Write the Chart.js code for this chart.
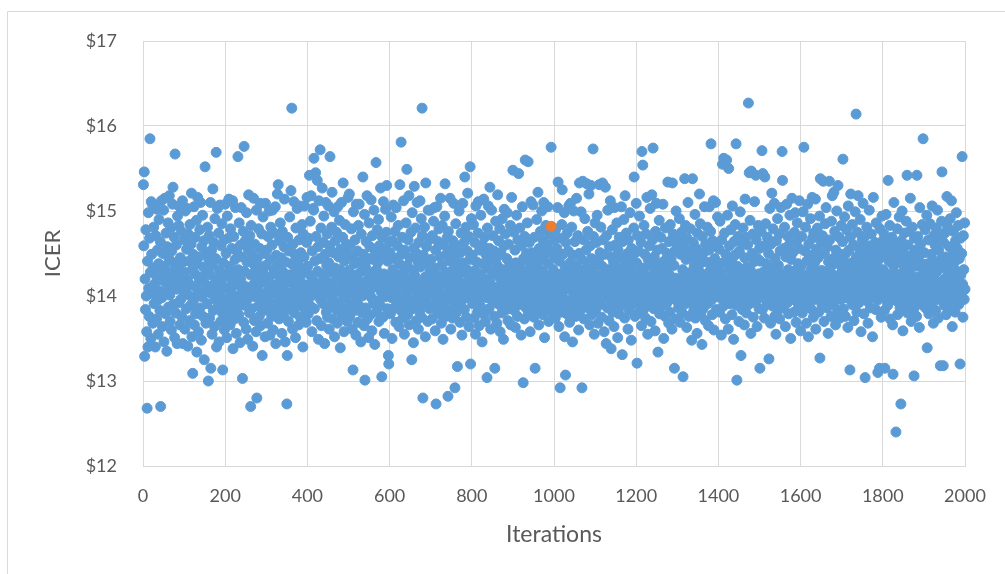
<!DOCTYPE html>
<html>
<head>
<meta charset="utf-8">
<script src="https://cdn.jsdelivr.net/npm/chart.js@4"></script>
<style>
  html, body { margin: 0; padding: 0; background: #fff; }
  #wrap { width: 1005px; height: 574px; }
</style>
</head>
<body>
<div id="wrap"><canvas id="chart" width="1005" height="574"></canvas></div>
<script>
// ICER per iteration in blocks of 100 iterations
const block00 = [15.31,14.59,15.46,13.29,14.20,13.84,14.78,14.00,13.58,12.68, 14.41,13.40,14.98,14.09,13.76,14.68,15.85,14.28,13.50,15.11, 14.49,14.03,15.08,13.68,14.33,14.81,13.91,14.14,15.04,13.40, 14.71,14.24,13.73,15.02,14.54,13.95,13.55,14.38,14.90,14.06, 13.83,14.64,12.70,14.30,15.12,13.98,13.64,14.50,14.18,15.01, 13.46,14.35,15.15,14.04,13.79,14.74,14.21,13.35,14.58,14.11, 14.86,13.87,14.44,15.18,14.01,13.70,14.28,14.80,13.60,14.53, 14.16,15.08,15.28,13.90,14.39,14.69,13.51,15.67,14.25,13.80, 14.60,14.08,13.44,14.94,14.34,13.92,14.83,14.13,15.05,13.66, 14.45,13.96,14.76,13.76,14.22,15.12,13.44,14.40,14.05,14.66];
const block01 = [14.28,13.61,15.00,14.09,13.85,14.55,15.03,14.19,13.41,14.73, 14.01,14.41,13.71,14.84,14.13,13.89,14.61,15.21,13.52,14.31, 13.09,14.49,13.95,15.05,13.66,14.26,14.69,13.79,14.10,14.89, 13.34,14.38,15.16,14.04,13.58,14.46,14.18,14.78,13.86,15.10, 14.22,13.48,14.58,13.99,14.95,13.76,14.34,14.65,13.25,14.15, 15.52,14.06,13.68,14.51,14.29,13.91,14.81,14.11,13.00,14.43, 14.71,13.74,14.25,15.10,13.15,14.03,14.54,13.55,14.36,15.26, 13.83,14.63,14.14,13.64,14.91,13.96,14.44,15.69,13.40,14.20, 15.03,14.08,13.88,14.74,13.46,14.30,15.07,14.00,13.70,14.59, 14.18,14.85,13.80,13.13,14.39,13.94,14.66,13.60,14.26,15.08];
const block02 = [13.90,14.50,14.09,13.51,14.94,14.24,13.75,14.68,15.14,13.98, 14.35,13.66,14.79,14.05,13.84,14.56,14.16,15.12,13.38,14.28, 14.70,13.95,13.73,14.43,15.04,14.13,13.56,14.53,14.21,13.86, 15.64,14.31,13.78,14.86,14.01,13.45,14.60,14.19,15.04,13.92, 14.46,13.03,14.08,14.76,13.69,15.76,14.29,13.89,14.65,14.11, 13.61,14.98,14.40,13.96,13.49,14.55,15.19,14.06,13.80,14.71, 14.25,12.70,14.83,13.85,14.49,14.04,13.41,14.38,15.15,14.14, 13.71,14.61,13.99,14.30,13.58,15.01,12.80,14.44,14.10,13.88, 14.79,14.20,13.76,14.56,15.09,13.65,14.34,13.94,14.73,13.30, 14.28,14.93,14.03,13.83,14.50,14.16,13.52,15.09,14.36,14.00];
const block03 = [14.54,13.96,13.68,14.70,14.22,13.86,15.00,14.08,13.54,14.43, 14.81,14.14,13.76,14.60,15.01,14.03,13.60,14.31,14.74,13.91, 14.26,15.05,13.44,14.48,14.09,13.81,15.20,14.36,15.31,14.01, 13.73,14.65,14.18,14.86,13.89,14.45,13.98,13.56,14.76,14.29, 14.11,13.78,14.58,15.14,14.05,13.46,14.40,14.21,13.85,12.73, 13.30,14.69,14.16,13.70,14.53,13.95,14.93,14.25,13.90,15.24, 14.38,16.21,14.04,13.61,14.61,14.19,15.11,13.80,14.49,14.10, 13.51,14.80,14.30,13.99,15.03,13.88,14.41,14.14,13.66,14.66, 15.06,14.20,13.75,14.51,14.06,13.92,14.84,14.33,13.40,14.73, 13.94,14.46,15.06,13.84,14.28,14.13,13.69,14.63,15.16,14.01];
const block04 = [14.35,13.79,14.68,14.09,15.42,13.89,14.88,14.24,15.18,14.00, 13.58,14.53,14.19,15.03,15.01,15.62,13.85,14.41,14.05,15.45, 14.70,14.15,13.71,15.36,14.29,14.58,13.49,15.12,14.11,14.44, 15.72,13.96,14.80,13.65,14.26,15.27,14.08,13.91,14.63,14.94, 14.21,13.44,14.49,14.03,15.10,13.81,14.36,14.73,13.75,14.16, 15.06,14.39,13.61,14.59,15.64,13.99,14.28,13.88,14.81,15.22, 14.10,13.73,14.51,13.95,14.99,13.52,14.33,14.65,14.18,13.84, 14.75,14.24,13.68,15.05,14.06,14.46,13.92,14.89,14.31,13.39, 14.55,14.04,15.10,13.78,14.20,14.69,15.33,14.13,13.58,14.41, 13.98,14.84,14.26,13.86,14.61,14.09,13.70,14.50,15.16,14.15];
const block05 = [14.30,15.20,13.76,14.60,14.08,13.90,14.79,14.19,13.61,14.46, 13.13,14.99,14.01,14.38,13.83,14.66,14.13,13.54,15.08,14.25, 13.96,14.53,13.69,14.83,14.18,15.08,13.88,14.40,14.06,13.46, 14.73,14.29,13.80,14.00,15.40,14.49,14.14,13.65,14.96,13.01, 14.35,13.86,14.64,14.09,15.18,13.73,14.44,14.20,13.51,14.86, 14.04,14.58,13.78,14.28,15.13,13.98,13.59,14.71,14.16,14.43, 13.91,15.01,14.22,13.43,14.50,14.11,15.57,14.31,13.81,14.78, 14.39,13.94,14.90,13.70,14.59,14.19,13.89,15.27,14.05,14.48, 13.05,14.69,14.10,13.75,15.11,14.26,13.56,14.54,13.99,15.02, 14.15,14.75,15.30,13.85,14.41,14.03,13.30,13.20,14.63,14.24];
const block06 = [14.51,13.79,14.20,14.93,13.98,13.50,14.65,14.31,15.07,14.09, 13.86,14.44,14.76,14.05,13.69,15.04,14.25,13.92,14.59,14.14, 14.83,14.00,13.64,14.38,15.31,14.18,13.83,15.81,14.49,13.96, 14.69,13.74,14.28,15.12,14.10,13.55,14.54,14.21,13.90,14.86, 14.01,15.49,14.36,13.78,14.66,14.06,15.18,13.66,14.45,14.19, 13.84,14.75,14.13,13.25,14.98,14.30,13.95,13.45,14.56,15.29, 14.24,13.89,14.80,14.08,13.71,14.50,15.10,14.03,14.40,13.61, 14.63,14.16,13.81,15.12,14.34,13.99,14.91,13.75,16.21,14.71, 12.80,14.48,14.05,13.91,14.81,14.22,13.52,15.33,14.11,14.58, 13.94,14.39,13.70,15.01,14.18,14.66,13.85,14.29,15.01,14.09];
const block07 = [14.43,14.03,13.73,14.71,14.19,13.89,14.88,14.10,15.04,14.33, 13.59,14.54,12.73,14.25,15.05,13.95,13.79,14.64,14.15,14.79, 14.06,13.85,14.46,15.15,14.00,13.68,14.36,14.83,14.21,13.49, 14.60,14.14,13.92,14.94,15.32,14.28,13.76,14.49,13.98,14.69, 14.18,12.82,14.76,14.04,13.83,14.41,15.15,14.09,13.61,14.55, 14.29,13.96,13.74,14.65,14.20,15.09,13.88,14.45,12.92,14.13, 14.85,13.80,14.35,14.01,13.17,14.59,14.24,13.90,15.00,14.06, 13.69,14.51,14.16,14.74,13.94,13.54,14.39,15.09,14.08,14.28, 14.63,13.84,15.40,14.11,13.98,14.81,13.75,14.31,14.53,15.21, 14.05,14.70,13.64,14.22,14.43,15.52,13.20,14.00,14.91,14.15];
const block08 = [14.48,13.91,14.14,14.84,14.03,13.74,14.63,14.30,13.55,15.06, 14.09,14.40,13.95,13.81,14.74,15.11,14.21,13.65,14.54,14.16, 13.88,14.95,14.26,13.99,13.46,14.60,14.38,14.05,15.14,13.78, 14.69,14.11,13.70,14.49,14.19,13.98,13.04,14.80,14.33,15.06, 14.04,13.85,14.56,15.28,14.15,13.61,14.43,15.01,13.96,14.25, 14.71,13.92,14.10,14.53,13.76,13.15,14.29,14.88,14.01,14.45, 13.68,14.36,15.19,14.06,14.65,13.90,14.22,14.79,13.58,14.13, 14.51,13.94,13.80,14.91,14.31,14.08,13.49,14.59,15.02,14.18, 14.00,14.73,14.28,13.84,14.44,14.98,14.14,13.71,14.61,14.24, 13.89,14.39,14.05,14.83,13.66,14.20,15.16,14.35,13.96,15.48];
const block09 = [14.28,14.75,13.83,14.09,14.54,13.63,14.39,13.99,14.95,14.18, 13.76,14.66,14.22,15.44,14.03,13.90,14.80,14.34,14.06,13.54, 14.59,14.13,15.05,13.95,12.98,14.44,14.26,13.73,14.70,15.60, 14.16,13.86,14.50,13.98,14.86,14.30,15.58,13.79,14.10,14.63, 14.40,13.58,14.21,15.11,14.04,14.51,13.92,14.15,15.07,14.33, 13.75,14.69,14.08,13.15,14.46,14.25,13.84,14.90,14.00,14.36, 15.22,14.11,13.66,14.56,14.19,13.96,14.76,13.89,14.43,15.00, 14.05,14.29,13.78,14.65,15.10,14.14,13.51,14.49,13.94,14.83, 14.24,13.85,14.60,14.09,15.05,14.38,13.70,14.01,14.73,14.20, 13.91,14.53,15.75,14.18,13.99,14.81,13.80,14.31,14.10,14.66];
const block10 = [14.45,14.00,13.74,14.78,14.21,13.88,14.56,14.08,15.04,15.34, 14.14,13.64,14.41,13.98,12.92,14.68,14.26,13.81,14.84,15.25, 14.04,14.49,13.90,14.18,14.98,13.52,14.34,13.07,14.63,14.10, 13.79,14.74,14.20,13.95,14.53,15.06,14.13,13.69,14.39,15.09, 14.28,13.85,14.81,14.06,13.46,14.48,14.16,15.00,13.96,14.30, 14.64,14.03,13.76,14.36,15.15,14.19,13.92,14.71,14.09,13.60, 14.50,15.33,14.24,13.83,14.01,14.99,14.43,12.92,14.14,15.35, 13.95,14.66,13.73,14.31,14.91,14.11,13.89,14.54,14.22,15.32, 14.05,14.76,13.86,14.38,15.20,13.99,13.66,14.59,14.18,15.30, 14.44,13.78,14.26,14.08,15.73,14.70,13.94,13.55,14.35,14.86];
const block11 = [14.16,13.84,14.63,14.03,14.95,14.24,13.68,14.43,14.09,15.31, 13.90,14.51,13.96,14.81,14.20,13.75,14.35,15.33,14.05,14.66, 14.13,13.58,14.49,14.28,15.28,13.98,13.44,14.71,14.18,13.86, 15.01,14.31,14.01,13.71,14.58,14.10,15.12,13.94,13.38,14.46, 14.25,14.78,13.81,14.14,14.40,13.64,15.04,14.06,14.60,14.19, 13.92,14.34,14.86,13.99,13.51,14.54,14.22,13.79,14.69,14.11, 14.45,13.88,14.16,15.05,14.04,13.31,14.64,14.30,13.95,14.90, 14.08,13.74,15.18,14.38,14.00,14.74,13.90,14.21,14.50,13.61, 14.66,14.15,13.83,14.44,14.98,13.96,14.28,13.48,14.56,14.10, 14.36,14.03,13.91,14.80,15.40,14.20,13.76,14.51,14.06,15.09];
const block12 = [14.39,13.21,14.71,14.04,13.80,14.53,14.13,14.94,13.89,14.28, 13.98,14.63,13.65,15.70,14.18,15.54,14.33,13.84,14.83,14.06, 14.49,13.95,13.74,14.73,14.24,15.16,14.09,13.55,14.43,14.01, 13.90,14.59,14.19,15.03,13.99,13.70,14.35,15.19,14.13,14.66, 15.74,14.08,13.85,14.46,14.26,13.59,14.76,13.94,15.09,14.20, 14.54,14.03,13.34,14.38,14.15,14.89,13.79,14.30,13.96,14.69, 14.10,13.88,14.56,14.22,15.08,14.00,13.50,14.41,14.16,13.76, 14.80,14.05,14.34,13.91,14.50,14.11,15.34,13.95,13.68,14.64, 14.25,13.81,14.84,14.08,14.44,13.99,13.61,15.33,14.18,14.73, 14.04,14.36,13.15,14.53,14.14,13.73,15.00,14.21,13.94,14.60];
const block13 = [14.20,14.65,13.86,14.06,14.91,13.98,13.69,14.49,14.15,14.75, 14.01,13.80,14.31,13.05,14.59,14.10,13.90,15.38,14.24,14.83, 14.43,13.95,13.63,14.68,14.14,15.10,14.04,13.76,14.53,14.19, 13.92,14.79,14.28,13.99,13.48,14.45,15.38,14.09,14.63,13.83, 14.36,14.05,14.96,13.74,14.21,14.56,13.94,13.56,14.74,14.13, 14.48,13.89,14.29,15.20,14.03,14.85,13.79,14.39,14.08,13.43, 14.70,14.16,13.85,14.51,13.96,15.05,14.25,13.71,14.61,14.11, 14.00,14.40,14.81,13.91,14.18,13.65,14.54,15.05,14.06,14.30, 14.76,15.79,13.95,14.34,13.78,14.65,14.19,15.12,13.60,14.10, 14.44,14.04,15.10,14.22,13.84,14.58,14.14,14.93,13.99,14.38];
const block14 = [14.09,14.55,13.81,14.88,14.28,13.98,13.54,14.66,14.16,15.55, 14.39,13.88,15.62,14.05,14.74,14.20,13.73,14.49,13.95,15.60, 14.13,14.95,14.01,13.61,15.50,14.31,14.59,13.91,14.18,14.78, 13.96,14.41,13.78,15.06,14.10,14.25,13.49,14.64,14.04,14.48, 14.84,14.15,15.79,13.89,13.01,14.35,14.00,14.70,14.21,13.70, 14.53,14.06,14.99,14.29,13.30,13.94,14.63,13.84,14.18,14.80, 14.26,13.99,13.66,14.45,15.14,14.11,14.69,13.80,14.34,14.03, 14.60,14.19,16.27,13.90,15.45,14.08,14.89,14.30,13.56,15.47, 14.14,14.50,13.96,14.73,13.75,14.40,14.05,15.11,14.22,13.92, 15.42,14.66,14.10,13.64,14.44,14.01,14.83,14.26,13.85,14.56];
const block15 = [13.15,14.41,13.99,14.76,14.18,15.71,13.84,15.44,14.28,14.08, 14.59,13.74,15.40,14.13,14.85,13.95,14.38,13.90,14.69,14.21, 14.04,14.50,13.26,14.30,15.03,14.09,13.68,14.61,13.98,15.21, 14.33,13.88,14.79,14.15,14.01,15.09,13.76,14.44,14.24,13.55, 14.65,14.06,13.96,14.91,13.83,14.36,14.19,14.73,13.73,14.53, 14.10,15.04,13.94,14.26,15.70,15.36,14.05,13.86,14.56,14.16, 14.81,14.00,13.64,14.46,14.22,15.08,14.11,13.92,14.70,14.31, 13.79,14.60,14.14,14.95,14.03,13.50,14.43,14.20,15.15,14.08, 14.51,13.96,14.29,13.81,14.75,14.13,14.98,13.99,13.69,14.64, 14.18,14.86,14.04,14.38,13.89,14.56,15.12,14.25,13.95,13.59];
const block16 = [14.35,14.01,14.70,13.80,14.19,14.99,14.09,15.75,13.91,14.53, 14.13,14.81,13.98,13.68,14.41,14.25,15.08,14.05,13.52,14.61, 13.95,14.48,14.16,14.91,13.85,14.31,14.03,15.16,14.68,14.21, 13.75,14.74,14.08,14.39,13.96,15.14,13.61,14.28,14.55,14.11, 14.80,13.99,14.45,13.81,14.22,14.94,13.27,15.38,14.06,14.63, 14.30,13.89,14.71,14.04,15.35,14.15,13.70,14.50,13.94,14.85, 14.18,15.04,14.00,13.86,14.58,14.26,13.56,14.40,14.10,15.35, 14.66,13.96,14.34,13.76,14.88,14.14,15.18,14.05,14.44,13.90, 15.22,14.24,14.76,13.98,13.66,14.54,14.11,15.00,14.20,13.83, 15.30,14.38,14.03,14.69,14.16,13.74,14.49,13.96,14.83,14.28];
const block17 = [14.09,14.64,15.61,13.85,14.41,14.03,14.93,14.20,13.76,14.50, 13.98,14.78,14.14,14.33,13.63,15.06,14.06,14.54,14.25,13.13, 14.69,15.20,13.95,14.39,13.90,14.84,14.13,13.99,14.60,13.71, 14.29,14.05,14.99,14.18,16.14,14.46,13.81,14.75,14.03,15.18, 14.35,13.92,14.56,14.11,14.90,13.96,13.58,14.43,14.22,14.66, 14.01,15.09,14.28,13.79,14.49,14.08,13.04,14.71,14.16,14.38, 14.81,13.94,14.20,13.68,14.59,14.10,15.01,14.00,14.44,13.86, 14.15,14.73,14.04,14.30,13.52,14.51,15.16,14.09,14.36,13.98, 14.63,14.19,13.84,14.86,14.06,14.40,13.95,13.10,14.55,14.26, 14.11,13.15,14.79,13.99,14.45,13.75,14.22,14.94,14.05,14.65];
const block18 = [14.31,14.03,14.73,13.83,13.15,14.49,14.16,14.96,13.95,14.26, 14.59,13.89,15.36,14.09,14.41,14.00,14.83,13.73,14.21,14.53, 14.05,14.69,14.13,13.66,13.08,14.36,15.10,13.96,14.28,14.63, 14.10,12.40,14.45,13.94,14.79,13.78,14.24,14.56,14.03,14.93, 14.18,13.86,14.39,12.73,14.65,14.06,15.00,13.98,13.59,14.51, 14.29,14.74,13.92,14.14,14.44,13.99,14.88,14.20,15.42,13.80, 14.60,14.08,14.34,13.88,14.76,14.04,15.15,14.25,13.70,14.48, 13.96,14.81,14.16,14.40,13.84,13.06,14.68,14.11,14.54,14.01, 14.35,13.76,15.42,14.22,14.70,13.94,14.46,14.13,13.63,15.04, 14.19,14.61,14.05,13.90,14.38,14.84,14.09,15.85,14.30,13.95];
const block19 = [14.51,14.06,14.78,13.86,14.24,13.98,14.95,13.39,14.38,14.14, 14.66,13.79,14.30,14.03,14.85,14.18,13.91,14.49,14.09,15.06, 14.00,14.41,13.68,14.71,14.20,13.95,14.60,14.11,13.83,14.80, 14.28,14.05,15.01,14.35,13.74,14.54,13.96,14.15,14.69,13.18, 14.43,14.10,14.88,15.46,14.01,14.33,13.18,14.63,14.19,13.89, 14.74,14.04,14.46,13.78,14.22,15.17,14.08,14.81,13.94,14.36, 14.16,14.58,13.85,14.91,13.99,14.26,15.12,14.13,13.64,14.48, 14.05,14.76,14.21,13.95,14.40,13.81,14.65,14.09,14.98,14.29, 14.56,13.98,14.18,14.83,13.90,14.44,14.11,13.20,14.68,14.25, 14.03,14.50,15.64,14.14,13.75,14.71,14.31,13.96,14.86,14.08];

const blocks = [block00, block01, block02, block03, block04, block05, block06, block07, block08, block09,
                block10, block11, block12, block13, block14, block15, block16, block17, block18, block19];

// highlighted point (orange)
const highlightIteration = [993];
const highlightValue = [14.82];

const xTickStep = 200;
const yTickStep = 1;
const xRange = [0, 2000];
const yRange = [12, 17];

const points = [];
blocks.forEach((blk, b) => {
  blk.forEach((v, i) => points.push({ x: b * 100 + i + 1, y: v }));
});
const highlight = highlightIteration.map((x, i) => ({ x: x, y: highlightValue[i] }));

const gridColor = '#d9d9d9';
const textColor = '#595959';

const framePlugin = {
  id: 'frame',
  beforeDraw(chart) {
    const c = chart.ctx;
    c.save();
    c.strokeStyle = gridColor;
    c.lineWidth = 1;
    c.beginPath();
    c.moveTo(7.5, 574);
    c.lineTo(7.5, 11.5);
    c.lineTo(1005, 11.5);
    c.stroke();
    c.restore();
  }
};

const ctx = document.getElementById('chart').getContext('2d');
new Chart(ctx, {
  type: 'scatter',
  data: {
    datasets: [{
      label: 'Base case',
      data: highlight,
      backgroundColor: '#ED7D31',
      borderColor: '#ED7D31',
      borderWidth: 1,
      pointRadius: 5,
      clip: false,
    }, {
      label: 'ICER',
      data: points,
      backgroundColor: '#5B9BD5',
      borderColor: '#5B9BD5',
      borderWidth: 1,
      pointRadius: 5,
      clip: false,
    }],
  },
  options: {
    responsive: false,
    animation: false,
    events: [],
    layout: { autoPadding: false, padding: { top: 41, right: 40, bottom: 0, left: 0 } },
    plugins: { legend: { display: false }, tooltip: { enabled: false } },
    scales: {
      x: {
        type: 'linear',
        min: xRange[0],
        max: xRange[1],
        afterFit: s => { s.height = 108; },
        grid: { color: gridColor, drawTicks: false },
        border: { color: gridColor },
        ticks: {
          stepSize: xTickStep,
          padding: 19,
          color: textColor,
          font: { family: 'Lato', size: 18 },
          callback: v => String(v),
        },
        title: {
          display: true,
          text: 'Iterations',
          color: textColor,
          font: { family: 'Lato', size: 23 },
          padding: { top: 0, bottom: 26 },
        },
      },
      y: {
        min: yRange[0],
        max: yRange[1],
        afterFit: s => { s.width = 143; },
        grid: { color: gridColor, drawTicks: false },
        border: { color: gridColor },
        ticks: {
          stepSize: yTickStep,
          padding: 26,
          color: textColor,
          font: { family: 'Lato', size: 18 },
          callback: v => '$' + v,
        },
        title: {
          display: true,
          text: 'ICER',
          color: textColor,
          font: { family: 'Lato', size: 22 },
          padding: { top: 40, bottom: 0 },
        },
      },
    },
  },
  plugins: [framePlugin],
});
</script>
</body>
</html>
